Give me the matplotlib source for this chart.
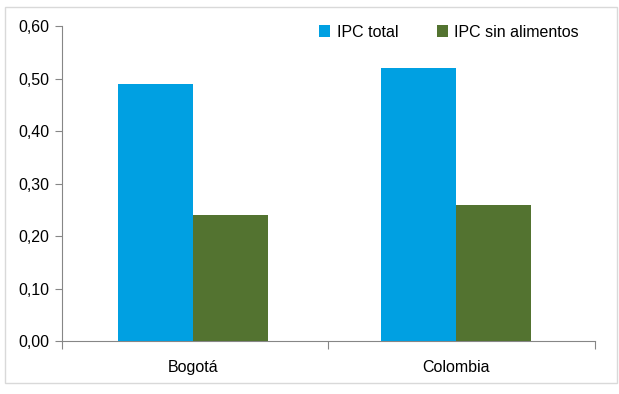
import matplotlib
matplotlib.use('Agg')
import matplotlib.pyplot as plt
import matplotlib.ticker as ticker
from matplotlib.patches import Rectangle
import numpy as np

BLUE = '#00A0E2'
GREEN = '#537330'
AXIS = '#868686'

categories = ['Bogotá', 'Colombia']
ipc_total = [0.49, 0.52]
ipc_sin_alimentos = [0.24, 0.26]
series_labels = ['IPC total', 'IPC sin alimentos']

plt.rcParams['font.family'] = ['Liberation Sans', 'DejaVu Sans']

fig = plt.figure(figsize=(6.19, 3.94), dpi=100)
fig.patch.set_facecolor('white')
ax = fig.add_axes([0.100, 0.1345, 0.861, 0.7995])

x = np.arange(len(categories))
width = 0.285
ax.bar(x - width/2, ipc_total, width, color=BLUE, label=series_labels[0], zorder=3)
ax.bar(x + width/2, ipc_sin_alimentos, width, color=GREEN, label=series_labels[1], zorder=3)

ax.set_xlim(-0.5, 1.53)
ax.set_ylim(0, 0.60)
ax.yaxis.set_major_locator(ticker.MultipleLocator(0.10))
ax.yaxis.set_major_formatter(ticker.FuncFormatter(lambda v, _: f'{v:.2f}'.replace('.', ',')))

ax.set_xticks([-0.5, 0.515, 1.53])
ax.set_xticklabels([])
ax.set_xticks(x, minor=True)
ax.set_xticklabels(categories, minor=True)
ax.tick_params(axis='x', which='minor', length=0, pad=14, labelsize=11.5)
ax.tick_params(axis='x', which='major', length=6, color=AXIS)
ax.tick_params(axis='y', length=5, color=AXIS, labelsize=11.5, pad=4)

ax.spines[['top', 'right']].set_visible(False)
ax.spines[['left', 'bottom']].set_color(AXIS)

ax.legend(loc='upper right', bbox_to_anchor=(0.997, 1.05), ncol=2, frameon=False,
          fontsize=11.5, handlelength=0.7, handleheight=0.7, handletextpad=0.4,
          columnspacing=2.4)

fig.patches.append(Rectangle((0.008, 0.028), 0.988, 0.955, transform=fig.transFigure,
                             fill=False, edgecolor='#D9D9D9', linewidth=1))

fig.savefig('out.png', dpi=100, facecolor='white')
